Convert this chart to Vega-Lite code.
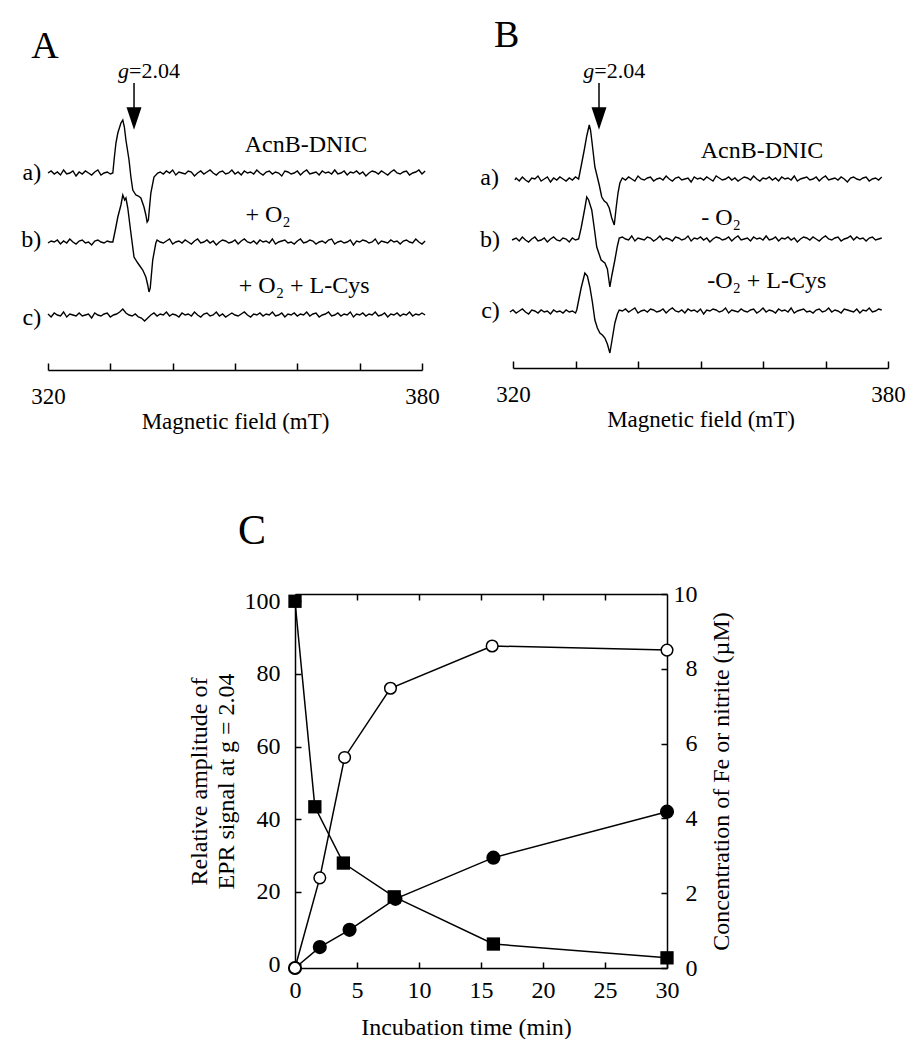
{
"$schema":"https://vega.github.io/schema/vega-lite/v6.json",
"padding":{"left":21,"top":15,"right":0,"bottom":0},
"background":"white",
"config":{"font":"Liberation Serif","view":{"stroke":null},
"axis":{"domainColor":"black","tickColor":"black","labelColor":"black","titleColor":"black","labelFont":"Liberation Serif","titleFont":"Liberation Serif","titleFontWeight":"normal","grid":false,"domainWidth":1.5,"tickWidth":1.5},
"text":{"font":"Liberation Serif","color":"black"},
"title":{"font":"Liberation Serif","fontWeight":"normal","color":"black"}},
"datasets":{
"epr":[
{"p":"A","t":"a","x":320,"y":197},{"p":"A","t":"a","x":320.5,"y":199},{"p":"A","t":"a","x":321,"y":196},{"p":"A","t":"a","x":321.5,"y":198},{"p":"A","t":"a","x":322,"y":195},{"p":"A","t":"a","x":322.5,"y":200},{"p":"A","t":"a","x":323,"y":196},{"p":"A","t":"a","x":323.5,"y":197},{"p":"A","t":"a","x":324,"y":199},{"p":"A","t":"a","x":324.5,"y":194},{"p":"A","t":"a","x":325,"y":198},{"p":"A","t":"a","x":325.5,"y":196},{"p":"A","t":"a","x":326,"y":199},{"p":"A","t":"a","x":326.5,"y":197},{"p":"A","t":"a","x":327,"y":195},{"p":"A","t":"a","x":327.5,"y":198},{"p":"A","t":"a","x":328,"y":200},{"p":"A","t":"a","x":328.5,"y":195},{"p":"A","t":"a","x":329,"y":197},{"p":"A","t":"a","x":329.5,"y":198},{"p":"A","t":"a","x":330,"y":196},
{"p":"A","t":"a","x":330.4,"y":197},{"p":"A","t":"a","x":330.65,"y":213},{"p":"A","t":"a","x":330.9,"y":227},{"p":"A","t":"a","x":331.2,"y":237},{"p":"A","t":"a","x":331.7,"y":247},{"p":"A","t":"a","x":332,"y":250},{"p":"A","t":"a","x":332.25,"y":243},{"p":"A","t":"a","x":332.5,"y":230},{"p":"A","t":"a","x":333,"y":210},{"p":"A","t":"a","x":333.3,"y":193},{"p":"A","t":"a","x":333.6,"y":180},{"p":"A","t":"a","x":334.1,"y":175},{"p":"A","t":"a","x":334.5,"y":174},{"p":"A","t":"a","x":334.9,"y":172},{"p":"A","t":"a","x":335.4,"y":163},{"p":"A","t":"a","x":335.7,"y":155},{"p":"A","t":"a","x":335.9,"y":148},{"p":"A","t":"a","x":336.1,"y":150},{"p":"A","t":"a","x":336.5,"y":177},{"p":"A","t":"a","x":337,"y":193},{"p":"A","t":"a","x":337.6,"y":197},
{"p":"A","t":"a","x":338,"y":198},{"p":"A","t":"a","x":338.5,"y":196},{"p":"A","t":"a","x":339,"y":199},{"p":"A","t":"a","x":339.5,"y":197},{"p":"A","t":"a","x":340,"y":200},{"p":"A","t":"a","x":340.5,"y":195},{"p":"A","t":"a","x":341,"y":198},{"p":"A","t":"a","x":341.5,"y":197},{"p":"A","t":"a","x":342,"y":196},{"p":"A","t":"a","x":342.5,"y":199},
{"p":"A","t":"a","x":343,"y":198},{"p":"A","t":"a","x":343.5,"y":194},{"p":"A","t":"a","x":344,"y":197},{"p":"A","t":"a","x":344.5,"y":199},{"p":"A","t":"a","x":345,"y":196},{"p":"A","t":"a","x":345.5,"y":198},{"p":"A","t":"a","x":346,"y":200},{"p":"A","t":"a","x":346.5,"y":197},{"p":"A","t":"a","x":347,"y":195},{"p":"A","t":"a","x":347.5,"y":198},
{"p":"A","t":"a","x":348,"y":199},{"p":"A","t":"a","x":348.5,"y":196},{"p":"A","t":"a","x":349,"y":197},{"p":"A","t":"a","x":349.5,"y":200},{"p":"A","t":"a","x":350,"y":196},{"p":"A","t":"a","x":350.5,"y":198},{"p":"A","t":"a","x":351,"y":195},{"p":"A","t":"a","x":351.5,"y":199},{"p":"A","t":"a","x":352,"y":197},{"p":"A","t":"a","x":352.5,"y":198},
{"p":"A","t":"a","x":353,"y":196},{"p":"A","t":"a","x":353.5,"y":200},{"p":"A","t":"a","x":354,"y":197},{"p":"A","t":"a","x":354.5,"y":195},{"p":"A","t":"a","x":355,"y":198},{"p":"A","t":"a","x":355.5,"y":199},{"p":"A","t":"a","x":356,"y":196},{"p":"A","t":"a","x":356.5,"y":198},{"p":"A","t":"a","x":357,"y":197},{"p":"A","t":"a","x":357.5,"y":194},
{"p":"A","t":"a","x":358,"y":199},{"p":"A","t":"a","x":358.5,"y":198},{"p":"A","t":"a","x":359,"y":196},{"p":"A","t":"a","x":359.5,"y":197},{"p":"A","t":"a","x":360,"y":199},{"p":"A","t":"a","x":360.5,"y":195},{"p":"A","t":"a","x":361,"y":198},{"p":"A","t":"a","x":361.5,"y":200},{"p":"A","t":"a","x":362,"y":196},{"p":"A","t":"a","x":362.5,"y":197},
{"p":"A","t":"a","x":363,"y":198},{"p":"A","t":"a","x":363.5,"y":195},{"p":"A","t":"a","x":364,"y":199},{"p":"A","t":"a","x":364.5,"y":197},{"p":"A","t":"a","x":365,"y":198},{"p":"A","t":"a","x":365.5,"y":196},{"p":"A","t":"a","x":366,"y":200},{"p":"A","t":"a","x":366.5,"y":196},{"p":"A","t":"a","x":367,"y":197},{"p":"A","t":"a","x":367.5,"y":199},
{"p":"A","t":"a","x":368,"y":195},{"p":"A","t":"a","x":368.5,"y":198},{"p":"A","t":"a","x":369,"y":197},{"p":"A","t":"a","x":369.5,"y":199},{"p":"A","t":"a","x":370,"y":196},{"p":"A","t":"a","x":370.5,"y":198},{"p":"A","t":"a","x":371,"y":194},{"p":"A","t":"a","x":371.5,"y":197},{"p":"A","t":"a","x":372,"y":199},{"p":"A","t":"a","x":372.5,"y":198},
{"p":"A","t":"a","x":373,"y":196},{"p":"A","t":"a","x":373.5,"y":199},{"p":"A","t":"a","x":374,"y":197},{"p":"A","t":"a","x":374.5,"y":195},{"p":"A","t":"a","x":375,"y":198},{"p":"A","t":"a","x":375.5,"y":200},{"p":"A","t":"a","x":376,"y":197},{"p":"A","t":"a","x":376.5,"y":196},{"p":"A","t":"a","x":377,"y":198},{"p":"A","t":"a","x":377.5,"y":199},
{"p":"A","t":"a","x":378,"y":195},{"p":"A","t":"a","x":378.5,"y":197},{"p":"A","t":"a","x":379,"y":198},{"p":"A","t":"a","x":379.5,"y":200},{"p":"A","t":"a","x":380,"y":196},{"p":"A","t":"a","x":380.5,"y":199},
{"p":"A","t":"b","x":320,"y":127},{"p":"A","t":"b","x":320.5,"y":129},{"p":"A","t":"b","x":321,"y":128},{"p":"A","t":"b","x":321.5,"y":130},{"p":"A","t":"b","x":322,"y":126},{"p":"A","t":"b","x":322.5,"y":129},{"p":"A","t":"b","x":323,"y":127},{"p":"A","t":"b","x":323.5,"y":131},{"p":"A","t":"b","x":324,"y":128},{"p":"A","t":"b","x":324.5,"y":126},{"p":"A","t":"b","x":325,"y":129},{"p":"A","t":"b","x":325.5,"y":130},{"p":"A","t":"b","x":326,"y":127},{"p":"A","t":"b","x":326.5,"y":128},{"p":"A","t":"b","x":327,"y":125},{"p":"A","t":"b","x":327.5,"y":129},{"p":"A","t":"b","x":328,"y":130},{"p":"A","t":"b","x":328.5,"y":128},{"p":"A","t":"b","x":329,"y":127},{"p":"A","t":"b","x":329.5,"y":129},{"p":"A","t":"b","x":330,"y":128},
{"p":"A","t":"b","x":330.4,"y":128},{"p":"A","t":"b","x":330.8,"y":140},{"p":"A","t":"b","x":331.2,"y":153},{"p":"A","t":"b","x":331.7,"y":165},{"p":"A","t":"b","x":332,"y":175},{"p":"A","t":"b","x":332.3,"y":170},{"p":"A","t":"b","x":332.5,"y":172},{"p":"A","t":"b","x":332.8,"y":162},{"p":"A","t":"b","x":333.3,"y":137},{"p":"A","t":"b","x":333.8,"y":113},{"p":"A","t":"b","x":334.4,"y":107},{"p":"A","t":"b","x":335.2,"y":100},{"p":"A","t":"b","x":335.7,"y":93},{"p":"A","t":"b","x":336,"y":85},{"p":"A","t":"b","x":336.2,"y":78},{"p":"A","t":"b","x":336.4,"y":82},{"p":"A","t":"b","x":336.8,"y":110},{"p":"A","t":"b","x":337.3,"y":127},
{"p":"A","t":"b","x":337.5,"y":130},{"p":"A","t":"b","x":338,"y":128},{"p":"A","t":"b","x":338.5,"y":127},{"p":"A","t":"b","x":339,"y":129},{"p":"A","t":"b","x":339.5,"y":131},{"p":"A","t":"b","x":340,"y":126},{"p":"A","t":"b","x":340.5,"y":128},{"p":"A","t":"b","x":341,"y":129},{"p":"A","t":"b","x":341.5,"y":127},{"p":"A","t":"b","x":342,"y":130},
{"p":"A","t":"b","x":342.5,"y":128},{"p":"A","t":"b","x":343,"y":126},{"p":"A","t":"b","x":343.5,"y":129},{"p":"A","t":"b","x":344,"y":131},{"p":"A","t":"b","x":344.5,"y":127},{"p":"A","t":"b","x":345,"y":128},{"p":"A","t":"b","x":345.5,"y":130},{"p":"A","t":"b","x":346,"y":127},{"p":"A","t":"b","x":346.5,"y":129},{"p":"A","t":"b","x":347,"y":125},
{"p":"A","t":"b","x":347.5,"y":128},{"p":"A","t":"b","x":348,"y":130},{"p":"A","t":"b","x":348.5,"y":129},{"p":"A","t":"b","x":349,"y":127},{"p":"A","t":"b","x":349.5,"y":128},{"p":"A","t":"b","x":350,"y":130},{"p":"A","t":"b","x":350.5,"y":126},{"p":"A","t":"b","x":351,"y":129},{"p":"A","t":"b","x":351.5,"y":131},{"p":"A","t":"b","x":352,"y":128},
{"p":"A","t":"b","x":352.5,"y":127},{"p":"A","t":"b","x":353,"y":129},{"p":"A","t":"b","x":353.5,"y":126},{"p":"A","t":"b","x":354,"y":130},{"p":"A","t":"b","x":354.5,"y":128},{"p":"A","t":"b","x":355,"y":129},{"p":"A","t":"b","x":355.5,"y":127},{"p":"A","t":"b","x":356,"y":131},{"p":"A","t":"b","x":356.5,"y":126},{"p":"A","t":"b","x":357,"y":128},
{"p":"A","t":"b","x":357.5,"y":129},{"p":"A","t":"b","x":358,"y":130},{"p":"A","t":"b","x":358.5,"y":127},{"p":"A","t":"b","x":359,"y":128},{"p":"A","t":"b","x":359.5,"y":126},{"p":"A","t":"b","x":360,"y":129},{"p":"A","t":"b","x":360.5,"y":131},{"p":"A","t":"b","x":361,"y":127},{"p":"A","t":"b","x":361.5,"y":128},{"p":"A","t":"b","x":362,"y":130},
{"p":"A","t":"b","x":362.5,"y":129},{"p":"A","t":"b","x":363,"y":126},{"p":"A","t":"b","x":363.5,"y":128},{"p":"A","t":"b","x":364,"y":129},{"p":"A","t":"b","x":364.5,"y":127},{"p":"A","t":"b","x":365,"y":130},{"p":"A","t":"b","x":365.5,"y":131},{"p":"A","t":"b","x":366,"y":126},{"p":"A","t":"b","x":366.5,"y":128},{"p":"A","t":"b","x":367,"y":129},
{"p":"A","t":"b","x":367.5,"y":127},{"p":"A","t":"b","x":368,"y":128},{"p":"A","t":"b","x":368.5,"y":130},{"p":"A","t":"b","x":369,"y":125},{"p":"A","t":"b","x":369.5,"y":129},{"p":"A","t":"b","x":370,"y":128},{"p":"A","t":"b","x":370.5,"y":130},{"p":"A","t":"b","x":371,"y":129},{"p":"A","t":"b","x":371.5,"y":127},{"p":"A","t":"b","x":372,"y":128},
{"p":"A","t":"b","x":372.5,"y":131},{"p":"A","t":"b","x":373,"y":126},{"p":"A","t":"b","x":373.5,"y":129},{"p":"A","t":"b","x":374,"y":128},{"p":"A","t":"b","x":374.5,"y":127},{"p":"A","t":"b","x":375,"y":130},{"p":"A","t":"b","x":375.5,"y":128},{"p":"A","t":"b","x":376,"y":129},{"p":"A","t":"b","x":376.5,"y":126},{"p":"A","t":"b","x":377,"y":129},
{"p":"A","t":"b","x":377.5,"y":130},{"p":"A","t":"b","x":378,"y":128},{"p":"A","t":"b","x":378.5,"y":127},{"p":"A","t":"b","x":379,"y":131},{"p":"A","t":"b","x":379.5,"y":128},{"p":"A","t":"b","x":380,"y":126},{"p":"A","t":"b","x":380.5,"y":129},
{"p":"A","t":"c","x":320,"y":56},{"p":"A","t":"c","x":320.5,"y":53},{"p":"A","t":"c","x":321,"y":57},{"p":"A","t":"c","x":321.5,"y":55},{"p":"A","t":"c","x":322,"y":54},{"p":"A","t":"c","x":322.5,"y":58},{"p":"A","t":"c","x":323,"y":53},{"p":"A","t":"c","x":323.5,"y":56},{"p":"A","t":"c","x":324,"y":55},{"p":"A","t":"c","x":324.5,"y":54},
{"p":"A","t":"c","x":325,"y":57},{"p":"A","t":"c","x":325.5,"y":54},{"p":"A","t":"c","x":326,"y":55},{"p":"A","t":"c","x":326.5,"y":56},{"p":"A","t":"c","x":327,"y":52},{"p":"A","t":"c","x":327.5,"y":57},{"p":"A","t":"c","x":328,"y":55},{"p":"A","t":"c","x":328.5,"y":54},{"p":"A","t":"c","x":329,"y":56},{"p":"A","t":"c","x":329.5,"y":57},
{"p":"A","t":"c","x":330,"y":53},{"p":"A","t":"c","x":330.5,"y":55},{"p":"A","t":"c","x":331,"y":56},{"p":"A","t":"c","x":331.5,"y":58},{"p":"A","t":"c","x":332,"y":61},{"p":"A","t":"c","x":332.5,"y":57},{"p":"A","t":"c","x":333,"y":55},{"p":"A","t":"c","x":333.5,"y":54},{"p":"A","t":"c","x":334,"y":56},{"p":"A","t":"c","x":334.5,"y":53},
{"p":"A","t":"c","x":335,"y":52},{"p":"A","t":"c","x":335.5,"y":49},{"p":"A","t":"c","x":336,"y":52},{"p":"A","t":"c","x":336.5,"y":55},{"p":"A","t":"c","x":337,"y":57},{"p":"A","t":"c","x":337.5,"y":54},{"p":"A","t":"c","x":338,"y":56},{"p":"A","t":"c","x":338.5,"y":55},{"p":"A","t":"c","x":339,"y":58},{"p":"A","t":"c","x":339.5,"y":54},
{"p":"A","t":"c","x":340,"y":56},{"p":"A","t":"c","x":340.5,"y":55},{"p":"A","t":"c","x":341,"y":53},{"p":"A","t":"c","x":341.5,"y":57},{"p":"A","t":"c","x":342,"y":55},{"p":"A","t":"c","x":342.5,"y":56},{"p":"A","t":"c","x":343,"y":54},{"p":"A","t":"c","x":343.5,"y":58},{"p":"A","t":"c","x":344,"y":55},{"p":"A","t":"c","x":344.5,"y":53},
{"p":"A","t":"c","x":345,"y":56},{"p":"A","t":"c","x":345.5,"y":57},{"p":"A","t":"c","x":346,"y":54},{"p":"A","t":"c","x":346.5,"y":55},{"p":"A","t":"c","x":347,"y":58},{"p":"A","t":"c","x":347.5,"y":54},{"p":"A","t":"c","x":348,"y":56},{"p":"A","t":"c","x":348.5,"y":53},{"p":"A","t":"c","x":349,"y":55},{"p":"A","t":"c","x":349.5,"y":57},
{"p":"A","t":"c","x":350,"y":55},{"p":"A","t":"c","x":350.5,"y":54},{"p":"A","t":"c","x":351,"y":56},{"p":"A","t":"c","x":351.5,"y":58},{"p":"A","t":"c","x":352,"y":55},{"p":"A","t":"c","x":352.5,"y":53},{"p":"A","t":"c","x":353,"y":56},{"p":"A","t":"c","x":353.5,"y":55},{"p":"A","t":"c","x":354,"y":57},{"p":"A","t":"c","x":354.5,"y":54},
{"p":"A","t":"c","x":355,"y":56},{"p":"A","t":"c","x":355.5,"y":55},{"p":"A","t":"c","x":356,"y":58},{"p":"A","t":"c","x":356.5,"y":54},{"p":"A","t":"c","x":357,"y":55},{"p":"A","t":"c","x":357.5,"y":57},{"p":"A","t":"c","x":358,"y":53},{"p":"A","t":"c","x":358.5,"y":56},{"p":"A","t":"c","x":359,"y":55},{"p":"A","t":"c","x":359.5,"y":57},
{"p":"A","t":"c","x":360,"y":54},{"p":"A","t":"c","x":360.5,"y":56},{"p":"A","t":"c","x":361,"y":55},{"p":"A","t":"c","x":361.5,"y":58},{"p":"A","t":"c","x":362,"y":54},{"p":"A","t":"c","x":362.5,"y":56},{"p":"A","t":"c","x":363,"y":57},{"p":"A","t":"c","x":363.5,"y":53},{"p":"A","t":"c","x":364,"y":55},{"p":"A","t":"c","x":364.5,"y":56},
{"p":"A","t":"c","x":365,"y":58},{"p":"A","t":"c","x":365.5,"y":54},{"p":"A","t":"c","x":366,"y":55},{"p":"A","t":"c","x":366.5,"y":57},{"p":"A","t":"c","x":367,"y":54},{"p":"A","t":"c","x":367.5,"y":56},{"p":"A","t":"c","x":368,"y":55},{"p":"A","t":"c","x":368.5,"y":58},{"p":"A","t":"c","x":369,"y":53},{"p":"A","t":"c","x":369.5,"y":56},
{"p":"A","t":"c","x":370,"y":55},{"p":"A","t":"c","x":370.5,"y":57},{"p":"A","t":"c","x":371,"y":54},{"p":"A","t":"c","x":371.5,"y":56},{"p":"A","t":"c","x":372,"y":55},{"p":"A","t":"c","x":372.5,"y":58},{"p":"A","t":"c","x":373,"y":54},{"p":"A","t":"c","x":373.5,"y":55},{"p":"A","t":"c","x":374,"y":57},{"p":"A","t":"c","x":374.5,"y":53},
{"p":"A","t":"c","x":375,"y":56},{"p":"A","t":"c","x":375.5,"y":55},{"p":"A","t":"c","x":376,"y":57},{"p":"A","t":"c","x":376.5,"y":54},{"p":"A","t":"c","x":377,"y":56},{"p":"A","t":"c","x":377.5,"y":55},{"p":"A","t":"c","x":378,"y":58},{"p":"A","t":"c","x":378.5,"y":54},{"p":"A","t":"c","x":379,"y":56},{"p":"A","t":"c","x":379.5,"y":55},
{"p":"A","t":"c","x":380,"y":57},{"p":"A","t":"c","x":380.5,"y":55},
{"p":"B","t":"a","x":320.3,"y":188},{"p":"B","t":"a","x":320.5,"y":190},{"p":"B","t":"a","x":321,"y":187},{"p":"B","t":"a","x":321.5,"y":191},{"p":"B","t":"a","x":322,"y":188},{"p":"B","t":"a","x":322.5,"y":186},{"p":"B","t":"a","x":323,"y":190},{"p":"B","t":"a","x":323.5,"y":189},{"p":"B","t":"a","x":324,"y":192},{"p":"B","t":"a","x":324.5,"y":187},{"p":"B","t":"a","x":325,"y":189},{"p":"B","t":"a","x":325.5,"y":191},{"p":"B","t":"a","x":326,"y":186},{"p":"B","t":"a","x":326.5,"y":190},{"p":"B","t":"a","x":327,"y":188},{"p":"B","t":"a","x":327.5,"y":191},{"p":"B","t":"a","x":328,"y":189},{"p":"B","t":"a","x":328.5,"y":187},{"p":"B","t":"a","x":329,"y":190},{"p":"B","t":"a","x":329.5,"y":188},{"p":"B","t":"a","x":330,"y":191},{"p":"B","t":"a","x":330.5,"y":189},
{"p":"B","t":"a","x":331,"y":205},{"p":"B","t":"a","x":331.4,"y":218},{"p":"B","t":"a","x":331.8,"y":232},{"p":"B","t":"a","x":332.2,"y":243},{"p":"B","t":"a","x":332.4,"y":238},{"p":"B","t":"a","x":332.6,"y":228},{"p":"B","t":"a","x":333.1,"y":201},{"p":"B","t":"a","x":333.8,"y":183},{"p":"B","t":"a","x":334.2,"y":171},{"p":"B","t":"a","x":334.6,"y":167},{"p":"B","t":"a","x":335,"y":165},{"p":"B","t":"a","x":335.4,"y":160},{"p":"B","t":"a","x":335.8,"y":150},{"p":"B","t":"a","x":336.2,"y":143},{"p":"B","t":"a","x":336.5,"y":160},{"p":"B","t":"a","x":336.8,"y":175},{"p":"B","t":"a","x":337.1,"y":185},{"p":"B","t":"a","x":337.4,"y":189},
{"p":"B","t":"a","x":337.5,"y":190},{"p":"B","t":"a","x":338,"y":188},{"p":"B","t":"a","x":338.5,"y":191},{"p":"B","t":"a","x":339,"y":189},{"p":"B","t":"a","x":339.5,"y":187},{"p":"B","t":"a","x":340,"y":192},{"p":"B","t":"a","x":340.5,"y":189},{"p":"B","t":"a","x":341,"y":188},{"p":"B","t":"a","x":341.5,"y":190},{"p":"B","t":"a","x":342,"y":191},
{"p":"B","t":"a","x":342.5,"y":187},{"p":"B","t":"a","x":343,"y":189},{"p":"B","t":"a","x":343.5,"y":190},{"p":"B","t":"a","x":344,"y":188},{"p":"B","t":"a","x":344.5,"y":192},{"p":"B","t":"a","x":345,"y":189},{"p":"B","t":"a","x":345.5,"y":187},{"p":"B","t":"a","x":346,"y":190},{"p":"B","t":"a","x":346.5,"y":191},{"p":"B","t":"a","x":347,"y":188},
{"p":"B","t":"a","x":347.5,"y":189},{"p":"B","t":"a","x":348,"y":190},{"p":"B","t":"a","x":348.5,"y":186},{"p":"B","t":"a","x":349,"y":191},{"p":"B","t":"a","x":349.5,"y":189},{"p":"B","t":"a","x":350,"y":190},{"p":"B","t":"a","x":350.5,"y":188},{"p":"B","t":"a","x":351,"y":191},{"p":"B","t":"a","x":351.5,"y":189},{"p":"B","t":"a","x":352,"y":187},
{"p":"B","t":"a","x":352.5,"y":192},{"p":"B","t":"a","x":353,"y":190},{"p":"B","t":"a","x":353.5,"y":188},{"p":"B","t":"a","x":354,"y":189},{"p":"B","t":"a","x":354.5,"y":191},{"p":"B","t":"a","x":355,"y":188},{"p":"B","t":"a","x":355.5,"y":190},{"p":"B","t":"a","x":356,"y":187},{"p":"B","t":"a","x":356.5,"y":189},{"p":"B","t":"a","x":357,"y":191},
{"p":"B","t":"a","x":357.5,"y":190},{"p":"B","t":"a","x":358,"y":188},{"p":"B","t":"a","x":358.5,"y":192},{"p":"B","t":"a","x":359,"y":189},{"p":"B","t":"a","x":359.5,"y":187},{"p":"B","t":"a","x":360,"y":190},{"p":"B","t":"a","x":360.5,"y":189},{"p":"B","t":"a","x":361,"y":191},{"p":"B","t":"a","x":361.5,"y":188},{"p":"B","t":"a","x":362,"y":190},
{"p":"B","t":"a","x":362.5,"y":187},{"p":"B","t":"a","x":363,"y":191},{"p":"B","t":"a","x":363.5,"y":189},{"p":"B","t":"a","x":364,"y":190},{"p":"B","t":"a","x":364.5,"y":188},{"p":"B","t":"a","x":365,"y":192},{"p":"B","t":"a","x":365.5,"y":187},{"p":"B","t":"a","x":366,"y":189},{"p":"B","t":"a","x":366.5,"y":190},{"p":"B","t":"a","x":367,"y":191},
{"p":"B","t":"a","x":367.5,"y":188},{"p":"B","t":"a","x":368,"y":189},{"p":"B","t":"a","x":368.5,"y":191},{"p":"B","t":"a","x":369,"y":187},{"p":"B","t":"a","x":369.5,"y":190},{"p":"B","t":"a","x":370,"y":192},{"p":"B","t":"a","x":370.5,"y":188},{"p":"B","t":"a","x":371,"y":189},{"p":"B","t":"a","x":371.5,"y":190},{"p":"B","t":"a","x":372,"y":188},
{"p":"B","t":"a","x":372.5,"y":191},{"p":"B","t":"a","x":373,"y":189},{"p":"B","t":"a","x":373.5,"y":186},{"p":"B","t":"a","x":374,"y":190},{"p":"B","t":"a","x":374.5,"y":191},{"p":"B","t":"a","x":375,"y":189},{"p":"B","t":"a","x":375.5,"y":188},{"p":"B","t":"a","x":376,"y":190},{"p":"B","t":"a","x":376.5,"y":191},{"p":"B","t":"a","x":377,"y":187},
{"p":"B","t":"a","x":377.5,"y":189},{"p":"B","t":"a","x":378,"y":190},{"p":"B","t":"a","x":378.5,"y":188},{"p":"B","t":"a","x":379,"y":191},
{"p":"B","t":"b","x":319.85,"y":128},{"p":"B","t":"b","x":320.5,"y":130},{"p":"B","t":"b","x":321,"y":127},{"p":"B","t":"b","x":321.5,"y":131},{"p":"B","t":"b","x":322,"y":128},{"p":"B","t":"b","x":322.5,"y":126},{"p":"B","t":"b","x":323,"y":129},{"p":"B","t":"b","x":323.5,"y":131},{"p":"B","t":"b","x":324,"y":127},{"p":"B","t":"b","x":324.5,"y":128},{"p":"B","t":"b","x":325,"y":130},{"p":"B","t":"b","x":325.5,"y":126},{"p":"B","t":"b","x":326,"y":129},{"p":"B","t":"b","x":326.5,"y":131},{"p":"B","t":"b","x":327,"y":128},{"p":"B","t":"b","x":327.5,"y":127},{"p":"B","t":"b","x":328,"y":130},{"p":"B","t":"b","x":328.5,"y":129},{"p":"B","t":"b","x":329,"y":126},{"p":"B","t":"b","x":329.5,"y":130},{"p":"B","t":"b","x":330,"y":128},{"p":"B","t":"b","x":330.5,"y":129},
{"p":"B","t":"b","x":330.9,"y":140},{"p":"B","t":"b","x":331.2,"y":150},{"p":"B","t":"b","x":331.5,"y":160},{"p":"B","t":"b","x":331.8,"y":171},{"p":"B","t":"b","x":332.1,"y":168},{"p":"B","t":"b","x":332.6,"y":158},{"p":"B","t":"b","x":333,"y":140},{"p":"B","t":"b","x":333.4,"y":121},{"p":"B","t":"b","x":334.1,"y":108},{"p":"B","t":"b","x":334.7,"y":105},{"p":"B","t":"b","x":335.1,"y":99},{"p":"B","t":"b","x":335.5,"y":81},{"p":"B","t":"b","x":335.8,"y":92},{"p":"B","t":"b","x":336.3,"y":108},{"p":"B","t":"b","x":336.7,"y":122},{"p":"B","t":"b","x":337,"y":130},
{"p":"B","t":"b","x":337.5,"y":131},{"p":"B","t":"b","x":338,"y":129},{"p":"B","t":"b","x":338.5,"y":128},{"p":"B","t":"b","x":339,"y":132},{"p":"B","t":"b","x":339.5,"y":127},{"p":"B","t":"b","x":340,"y":130},{"p":"B","t":"b","x":340.5,"y":129},{"p":"B","t":"b","x":341,"y":128},{"p":"B","t":"b","x":341.5,"y":131},{"p":"B","t":"b","x":342,"y":130},
{"p":"B","t":"b","x":342.5,"y":127},{"p":"B","t":"b","x":343,"y":129},{"p":"B","t":"b","x":343.5,"y":132},{"p":"B","t":"b","x":344,"y":128},{"p":"B","t":"b","x":344.5,"y":130},{"p":"B","t":"b","x":345,"y":129},{"p":"B","t":"b","x":345.5,"y":127},{"p":"B","t":"b","x":346,"y":131},{"p":"B","t":"b","x":346.5,"y":130},{"p":"B","t":"b","x":347,"y":128},
{"p":"B","t":"b","x":347.5,"y":129},{"p":"B","t":"b","x":348,"y":132},{"p":"B","t":"b","x":348.5,"y":127},{"p":"B","t":"b","x":349,"y":130},{"p":"B","t":"b","x":349.5,"y":129},{"p":"B","t":"b","x":350,"y":131},{"p":"B","t":"b","x":350.5,"y":128},{"p":"B","t":"b","x":351,"y":130},{"p":"B","t":"b","x":351.5,"y":126},{"p":"B","t":"b","x":352,"y":129},
{"p":"B","t":"b","x":352.5,"y":131},{"p":"B","t":"b","x":353,"y":130},{"p":"B","t":"b","x":353.5,"y":128},{"p":"B","t":"b","x":354,"y":129},{"p":"B","t":"b","x":354.5,"y":131},{"p":"B","t":"b","x":355,"y":127},{"p":"B","t":"b","x":355.5,"y":130},{"p":"B","t":"b","x":356,"y":132},{"p":"B","t":"b","x":356.5,"y":128},{"p":"B","t":"b","x":357,"y":129},
{"p":"B","t":"b","x":357.5,"y":130},{"p":"B","t":"b","x":358,"y":127},{"p":"B","t":"b","x":358.5,"y":131},{"p":"B","t":"b","x":359,"y":129},{"p":"B","t":"b","x":359.5,"y":130},{"p":"B","t":"b","x":360,"y":128},{"p":"B","t":"b","x":360.5,"y":132},{"p":"B","t":"b","x":361,"y":128},{"p":"B","t":"b","x":361.5,"y":129},{"p":"B","t":"b","x":362,"y":131},
{"p":"B","t":"b","x":362.5,"y":127},{"p":"B","t":"b","x":363,"y":130},{"p":"B","t":"b","x":363.5,"y":129},{"p":"B","t":"b","x":364,"y":131},{"p":"B","t":"b","x":364.5,"y":128},{"p":"B","t":"b","x":365,"y":130},{"p":"B","t":"b","x":365.5,"y":126},{"p":"B","t":"b","x":366,"y":129},{"p":"B","t":"b","x":366.5,"y":131},{"p":"B","t":"b","x":367,"y":130},
{"p":"B","t":"b","x":367.5,"y":128},{"p":"B","t":"b","x":368,"y":131},{"p":"B","t":"b","x":368.5,"y":129},{"p":"B","t":"b","x":369,"y":127},{"p":"B","t":"b","x":369.5,"y":130},{"p":"B","t":"b","x":370,"y":132},{"p":"B","t":"b","x":370.5,"y":129},{"p":"B","t":"b","x":371,"y":128},{"p":"B","t":"b","x":371.5,"y":130},{"p":"B","t":"b","x":372,"y":131},
{"p":"B","t":"b","x":372.5,"y":127},{"p":"B","t":"b","x":373,"y":129},{"p":"B","t":"b","x":373.5,"y":130},{"p":"B","t":"b","x":374,"y":132},{"p":"B","t":"b","x":374.5,"y":128},{"p":"B","t":"b","x":375,"y":131},{"p":"B","t":"b","x":375.5,"y":129},{"p":"B","t":"b","x":376,"y":130},{"p":"B","t":"b","x":376.5,"y":127},{"p":"B","t":"b","x":377,"y":130},
{"p":"B","t":"b","x":377.5,"y":131},{"p":"B","t":"b","x":378,"y":128},{"p":"B","t":"b","x":378.5,"y":129},{"p":"B","t":"b","x":379,"y":130},
{"p":"B","t":"c","x":319.5,"y":56},{"p":"B","t":"c","x":320,"y":58},{"p":"B","t":"c","x":320.5,"y":55},{"p":"B","t":"c","x":321,"y":57},{"p":"B","t":"c","x":321.5,"y":59},{"p":"B","t":"c","x":322,"y":56},{"p":"B","t":"c","x":322.5,"y":54},{"p":"B","t":"c","x":323,"y":58},{"p":"B","t":"c","x":323.5,"y":57},{"p":"B","t":"c","x":324,"y":55},{"p":"B","t":"c","x":324.5,"y":58},{"p":"B","t":"c","x":325,"y":56},{"p":"B","t":"c","x":325.5,"y":57},{"p":"B","t":"c","x":326,"y":54},{"p":"B","t":"c","x":326.5,"y":58},{"p":"B","t":"c","x":327,"y":56},{"p":"B","t":"c","x":327.5,"y":57},{"p":"B","t":"c","x":328,"y":55},{"p":"B","t":"c","x":328.5,"y":58},{"p":"B","t":"c","x":329,"y":56},{"p":"B","t":"c","x":329.5,"y":57},{"p":"B","t":"c","x":330,"y":55},
{"p":"B","t":"c","x":330.2,"y":58},{"p":"B","t":"c","x":330.9,"y":80},{"p":"B","t":"c","x":331.5,"y":95},{"p":"B","t":"c","x":331.9,"y":92},{"p":"B","t":"c","x":332.3,"y":81},{"p":"B","t":"c","x":332.7,"y":66},{"p":"B","t":"c","x":333.1,"y":48},{"p":"B","t":"c","x":333.5,"y":40},{"p":"B","t":"c","x":333.9,"y":35},{"p":"B","t":"c","x":334.3,"y":33},{"p":"B","t":"c","x":334.7,"y":30},{"p":"B","t":"c","x":335.1,"y":24},{"p":"B","t":"c","x":335.5,"y":15},{"p":"B","t":"c","x":335.9,"y":30},{"p":"B","t":"c","x":336.3,"y":45},{"p":"B","t":"c","x":336.7,"y":54},{"p":"B","t":"c","x":337,"y":58},
{"p":"B","t":"c","x":337.5,"y":57},{"p":"B","t":"c","x":338,"y":59},{"p":"B","t":"c","x":338.5,"y":56},{"p":"B","t":"c","x":339,"y":58},{"p":"B","t":"c","x":339.5,"y":60},{"p":"B","t":"c","x":340,"y":55},{"p":"B","t":"c","x":340.5,"y":57},{"p":"B","t":"c","x":341,"y":58},{"p":"B","t":"c","x":341.5,"y":56},{"p":"B","t":"c","x":342,"y":59},
{"p":"B","t":"c","x":342.5,"y":58},{"p":"B","t":"c","x":343,"y":56},{"p":"B","t":"c","x":343.5,"y":57},{"p":"B","t":"c","x":344,"y":59},{"p":"B","t":"c","x":344.5,"y":55},{"p":"B","t":"c","x":345,"y":58},{"p":"B","t":"c","x":345.5,"y":60},{"p":"B","t":"c","x":346,"y":57},{"p":"B","t":"c","x":346.5,"y":56},{"p":"B","t":"c","x":347,"y":58},
{"p":"B","t":"c","x":347.5,"y":55},{"p":"B","t":"c","x":348,"y":59},{"p":"B","t":"c","x":348.5,"y":57},{"p":"B","t":"c","x":349,"y":58},{"p":"B","t":"c","x":349.5,"y":56},{"p":"B","t":"c","x":350,"y":59},{"p":"B","t":"c","x":350.5,"y":54},{"p":"B","t":"c","x":351,"y":58},{"p":"B","t":"c","x":351.5,"y":57},{"p":"B","t":"c","x":352,"y":59},
{"p":"B","t":"c","x":352.5,"y":58},{"p":"B","t":"c","x":353,"y":56},{"p":"B","t":"c","x":353.5,"y":57},{"p":"B","t":"c","x":354,"y":60},{"p":"B","t":"c","x":354.5,"y":55},{"p":"B","t":"c","x":355,"y":58},{"p":"B","t":"c","x":355.5,"y":57},{"p":"B","t":"c","x":356,"y":56},{"p":"B","t":"c","x":356.5,"y":59},{"p":"B","t":"c","x":357,"y":57},
{"p":"B","t":"c","x":357.5,"y":56},{"p":"B","t":"c","x":358,"y":58},{"p":"B","t":"c","x":358.5,"y":59},{"p":"B","t":"c","x":359,"y":55},{"p":"B","t":"c","x":359.5,"y":57},{"p":"B","t":"c","x":360,"y":60},{"p":"B","t":"c","x":360.5,"y":56},{"p":"B","t":"c","x":361,"y":58},{"p":"B","t":"c","x":361.5,"y":57},{"p":"B","t":"c","x":362,"y":55},
{"p":"B","t":"c","x":362.5,"y":59},{"p":"B","t":"c","x":363,"y":57},{"p":"B","t":"c","x":363.5,"y":58},{"p":"B","t":"c","x":364,"y":56},{"p":"B","t":"c","x":364.5,"y":60},{"p":"B","t":"c","x":365,"y":55},{"p":"B","t":"c","x":365.5,"y":57},{"p":"B","t":"c","x":366,"y":58},{"p":"B","t":"c","x":366.5,"y":59},{"p":"B","t":"c","x":367,"y":56},
{"p":"B","t":"c","x":367.5,"y":57},{"p":"B","t":"c","x":368,"y":55},{"p":"B","t":"c","x":368.5,"y":58},{"p":"B","t":"c","x":369,"y":59},{"p":"B","t":"c","x":369.5,"y":56},{"p":"B","t":"c","x":370,"y":57},{"p":"B","t":"c","x":370.5,"y":60},{"p":"B","t":"c","x":371,"y":56},{"p":"B","t":"c","x":371.5,"y":58},{"p":"B","t":"c","x":372,"y":57},
{"p":"B","t":"c","x":372.5,"y":55},{"p":"B","t":"c","x":373,"y":59},{"p":"B","t":"c","x":373.5,"y":58},{"p":"B","t":"c","x":374,"y":57},{"p":"B","t":"c","x":374.5,"y":56},{"p":"B","t":"c","x":375,"y":59},{"p":"B","t":"c","x":375.5,"y":55},{"p":"B","t":"c","x":376,"y":58},{"p":"B","t":"c","x":376.5,"y":57},{"p":"B","t":"c","x":377,"y":60},
{"p":"B","t":"c","x":377.5,"y":56},{"p":"B","t":"c","x":378,"y":57},{"p":"B","t":"c","x":378.5,"y":59},{"p":"B","t":"c","x":379,"y":58}
],
"ann":[
{"p":"A","k":"letter","x":317.3,"y":312,"label":"A"},
{"p":"A","k":"g","x":333.0,"y":292,"label":"g"},
{"p":"A","k":"geq","x":333.0,"y":292,"label":"=2.04"},
{"p":"A","k":"cond","x":361.4,"y":218,"label":"AcnB-DNIC"},
{"p":"A","k":"cond","x":355.3,"y":148,"label":"+ O₂"},
{"p":"A","k":"cond","x":361.1,"y":77,"label":"+ O₂ + L-Cys"},
{"p":"A","k":"row","x":318.9,"y":190,"label":"a)"},
{"p":"A","k":"row","x":318.9,"y":123,"label":"b)"},
{"p":"A","k":"row","x":318.9,"y":45,"label":"c)"},
{"p":"A","k":"arrow","x":333.8,"y":287,"y2":262},
{"p":"A","k":"head","x":333.8,"y":251.5},
{"p":"B","k":"letter","x":316.96,"y":321,"label":"B"},
{"p":"B","k":"g","x":333.0,"y":290,"label":"g"},
{"p":"B","k":"geq","x":333.0,"y":290,"label":"=2.04"},
{"p":"B","k":"cond","x":359.84,"y":210,"label":"AcnB-DNIC"},
{"p":"B","k":"cond","x":353.3,"y":143,"label":"- O₂"},
{"p":"B","k":"cond","x":360.6,"y":80,"label":"-O₂ + L-Cys"},
{"p":"B","k":"row","x":317.76,"y":183,"label":"a)"},
{"p":"B","k":"row","x":317.9,"y":121,"label":"b)"},
{"p":"B","k":"row","x":317.9,"y":50,"label":"c)"},
{"p":"B","k":"arrow","x":333.76,"y":285,"y2":260},
{"p":"B","k":"head","x":333.76,"y":249.5}
],
"kin":[
{"s":"EPR","t":0,"v":100},{"s":"EPR","t":1.6,"v":43.4},{"s":"EPR","t":3.9,"v":27.9},{"s":"EPR","t":8,"v":18.6},{"s":"EPR","t":16,"v":5.6},{"s":"EPR","t":30,"v":1.8},
{"s":"Fe","t":0,"v":0},{"s":"Fe","t":2,"v":0.56},{"s":"Fe","t":4.4,"v":1.02},{"s":"Fe","t":8.1,"v":1.85},{"s":"Fe","t":16,"v":2.95},{"s":"Fe","t":30,"v":4.18},
{"s":"NO2","t":0,"v":0},{"s":"NO2","t":2,"v":2.41},{"s":"NO2","t":4,"v":5.63},{"s":"NO2","t":7.7,"v":7.48},{"s":"NO2","t":15.9,"v":8.61},{"s":"NO2","t":30,"v":8.5}
]
},
"vconcat":[
{"hconcat":[
{"width":374,"height":355,
"encoding":{
"x":{"field":"x","type":"quantitative","scale":{"domain":[320,380],"nice":false,"zero":false},
"axis":{"values":[320,330,340,350,360,370,380],"labelExpr":"datum.value==320||datum.value==380?datum.label:''","labelFlush":false,"labelOverlap":false,"tickSize":-7,"labelPadding":22,"labelFont":"Liberation Serif","titleFont":"Liberation Serif","labelFontSize":23,"title":"Magnetic field (mT)","titleFontSize":23,"titlePadding":2}},
"y":{"field":"y","type":"quantitative","scale":{"domain":[0,355],"nice":false,"zero":false},"axis":null}},
"layer":[
{"data":{"name":"epr"},"transform":[{"filter":"datum.p=='A'"}],"mark":{"type":"line","color":"black","strokeWidth":1.4},"encoding":{"detail":{"field":"t"}}},
{"data":{"name":"ann"},"transform":[{"filter":"datum.p=='A'&&datum.k=='arrow'"}],"mark":{"type":"rule","color":"black","strokeWidth":1.5},"encoding":{"y2":{"field":"y2"}}},
{"data":{"name":"ann"},"transform":[{"filter":"datum.p=='A'&&datum.k=='head'"}],"mark":{"type":"point","shape":"M-1,-1.5L1,-1.5L0,1.5Z","filled":true,"color":"black","opacity":1,"size":225},"encoding":{}},
{"data":{"name":"ann"},"transform":[{"filter":"datum.p=='A'&&datum.k=='letter'"}],"mark":{"type":"text","font":"Liberation Serif","fontSize":38,"align":"left","baseline":"alphabetic"},"encoding":{"text":{"field":"label"}}},
{"data":{"name":"ann"},"transform":[{"filter":"datum.p=='A'&&datum.k=='g'"}],"mark":{"type":"text","font":"Liberation Serif","fontSize":22,"fontStyle":"italic","align":"right","baseline":"alphabetic"},"encoding":{"text":{"field":"label"}}},
{"data":{"name":"ann"},"transform":[{"filter":"datum.p=='A'&&datum.k=='geq'"}],"mark":{"type":"text","font":"Liberation Serif","fontSize":22,"align":"left","baseline":"alphabetic"},"encoding":{"text":{"field":"label"}}},
{"data":{"name":"ann"},"transform":[{"filter":"datum.p=='A'&&datum.k=='cond'"}],"mark":{"type":"text","font":"Liberation Serif","fontSize":24,"align":"center","baseline":"alphabetic"},"encoding":{"text":{"field":"label"}}},
{"data":{"name":"ann"},"transform":[{"filter":"datum.p=='A'&&datum.k=='row'"}],"mark":{"type":"text","font":"Liberation Serif","fontSize":24,"align":"right","baseline":"alphabetic"},"encoding":{"text":{"field":"label"}}}
]},
{"width":375,"height":353,
"encoding":{
"x":{"field":"x","type":"quantitative","scale":{"domain":[320,380],"nice":false,"zero":false},
"axis":{"values":[320,330,340,350,360,370,380],"labelExpr":"datum.value==320||datum.value==380?datum.label:''","labelFlush":false,"labelOverlap":false,"tickSize":-7,"labelPadding":22,"labelFont":"Liberation Serif","titleFont":"Liberation Serif","labelFontSize":23,"title":"Magnetic field (mT)","titleFontSize":23,"titlePadding":2}},
"y":{"field":"y","type":"quantitative","scale":{"domain":[0,353],"nice":false,"zero":false},"axis":null}},
"layer":[
{"data":{"name":"epr"},"transform":[{"filter":"datum.p=='B'"}],"mark":{"type":"line","color":"black","strokeWidth":1.4},"encoding":{"detail":{"field":"t"}}},
{"data":{"name":"ann"},"transform":[{"filter":"datum.p=='B'&&datum.k=='arrow'"}],"mark":{"type":"rule","color":"black","strokeWidth":1.5},"encoding":{"y2":{"field":"y2"}}},
{"data":{"name":"ann"},"transform":[{"filter":"datum.p=='B'&&datum.k=='head'"}],"mark":{"type":"point","shape":"M-1,-1.5L1,-1.5L0,1.5Z","filled":true,"color":"black","opacity":1,"size":225},"encoding":{}},
{"data":{"name":"ann"},"transform":[{"filter":"datum.p=='B'&&datum.k=='letter'"}],"mark":{"type":"text","font":"Liberation Serif","fontSize":38,"align":"left","baseline":"alphabetic"},"encoding":{"text":{"field":"label"}}},
{"data":{"name":"ann"},"transform":[{"filter":"datum.p=='B'&&datum.k=='g'"}],"mark":{"type":"text","font":"Liberation Serif","fontSize":22,"fontStyle":"italic","align":"right","baseline":"alphabetic"},"encoding":{"text":{"field":"label"}}},
{"data":{"name":"ann"},"transform":[{"filter":"datum.p=='B'&&datum.k=='geq'"}],"mark":{"type":"text","font":"Liberation Serif","fontSize":22,"align":"left","baseline":"alphabetic"},"encoding":{"text":{"field":"label"}}},
{"data":{"name":"ann"},"transform":[{"filter":"datum.p=='B'&&datum.k=='cond'"}],"mark":{"type":"text","font":"Liberation Serif","fontSize":24,"align":"center","baseline":"alphabetic"},"encoding":{"text":{"field":"label"}}},
{"data":{"name":"ann"},"transform":[{"filter":"datum.p=='B'&&datum.k=='row'"}],"mark":{"type":"text","font":"Liberation Serif","fontSize":24,"align":"right","baseline":"alphabetic"},"encoding":{"text":{"field":"label"}}}
]}
],"spacing":39},
{"hconcat":[
{"width":139,"height":10,"data":{"values":[]},"mark":{"type":"point","opacity":0},"encoding":{}},
{"width":372,"height":374,
"title":{"text":"C","anchor":"start","frame":"group","font":"Liberation Serif","fontSize":42,"dx":-57,"offset":-4,"baseline":"alphabetic"},
"data":{"name":"kin"},
"layer":[
{"transform":[{"filter":"datum.s=='EPR'"}],
"encoding":{
"x":{"field":"t","type":"quantitative","scale":{"domain":[0,30],"nice":false,"zero":false},
"axis":{"orient":"bottom","values":[0,5,10,15,20,25,30],"labelFlush":false,"tickSize":-6,"labelPadding":16,"labelFont":"Liberation Serif","titleFont":"Liberation Serif","labelFontSize":24,"title":"Incubation time (min)","titleFontSize":24,"titlePadding":13,"titleX":171}},
"y":{"field":"v","type":"quantitative","scale":{"domain":[-1,102],"nice":false,"zero":false},
"axis":{"orient":"left","values":[0,20,40,60,80,100],"tickSize":-6,"labelPadding":21,"labelFont":"Liberation Serif","titleFont":"Liberation Serif","labelFontSize":24,"title":["Relative amplitude of","EPR signal at g = 2.04"],"titleFontSize":24,"titleLineHeight":27,"titlePadding":6}}},
"layer":[
{"mark":{"type":"line","color":"black","strokeWidth":1.5}},
{"mark":{"type":"point","shape":"square","filled":true,"color":"black","opacity":1,"size":177}}
]},
{"transform":[{"filter":"datum.s!='EPR'"}],
"encoding":{
"x":{"field":"t","type":"quantitative","scale":{"domain":[0,30],"nice":false,"zero":false},
"axis":{"orient":"top","values":[5,10,15,20,25],"labels":false,"tickSize":-6,"title":null}},
"y":{"field":"v","type":"quantitative","scale":{"domain":[0,10],"nice":false,"zero":false},
"axis":{"orient":"right","values":[0,2,4,6,8,10],"tickSize":-6,"labelPadding":36,"labelAlign":"right","labelFont":"Liberation Serif","titleFont":"Liberation Serif","labelFontSize":24,"title":"Concentration of Fe or nitrite (µM)","titleFontSize":24,"titleAngle":270,"titleBaseline":"top","titlePadding":12}}},
"layer":[
{"mark":{"type":"line","color":"black","strokeWidth":1.5},"encoding":{"detail":{"field":"s"}}},
{"transform":[{"filter":"datum.s=='Fe'"}],"mark":{"type":"point","shape":"circle","filled":true,"color":"black","opacity":1,"size":200}},
{"transform":[{"filter":"datum.s=='NO2'"}],"mark":{"type":"point","shape":"circle","filled":true,"fill":"white","stroke":"black","strokeWidth":1.5,"opacity":1,"size":135}}
]}
],
"resolve":{"scale":{"y":"independent"},"axis":{"x":"independent","y":"independent"}}}
],"spacing":0}
],
"spacing":77
}
